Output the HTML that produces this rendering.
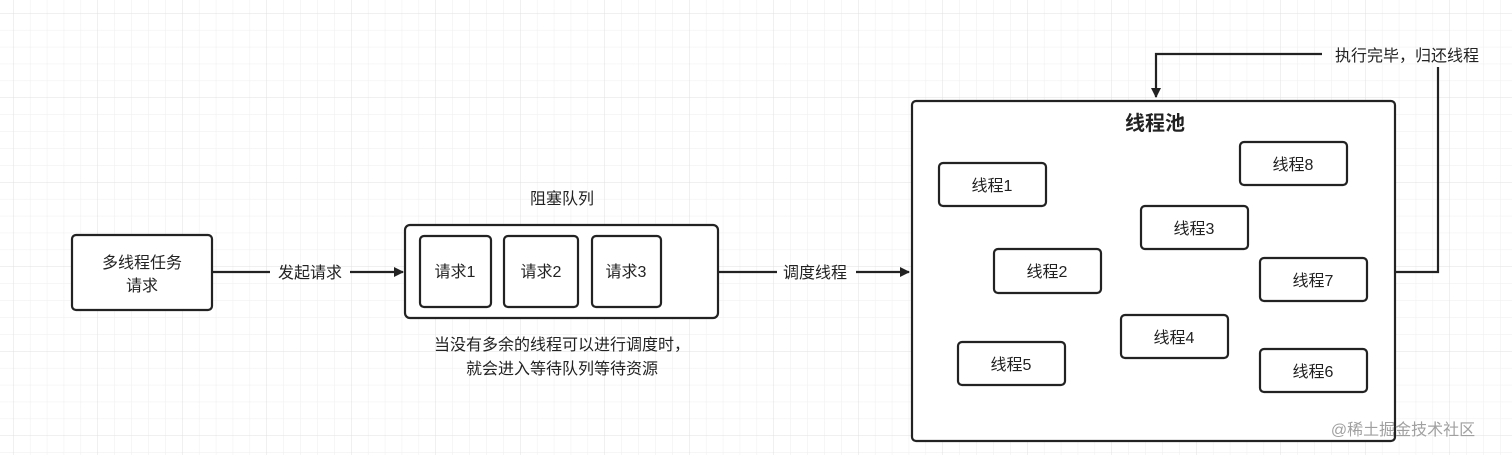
<!DOCTYPE html>
<html><head><meta charset="utf-8"><style>
html,body{margin:0;padding:0;background:#fff}
svg{display:block}
text{font-family:"Liberation Sans","Noto Sans CJK SC",sans-serif;fill:#222}
</style></head><body>
<svg width="1512" height="455" viewBox="0 0 1512 455" xmlns="http://www.w3.org/2000/svg">
<defs>
<pattern id="g" x="-3.4" y="-3.4" width="16.9" height="16.9" patternUnits="userSpaceOnUse"><path d="M16.9 0V16.9H0" fill="none" stroke="#eeeeee" stroke-width="1"/></pattern>
<pattern id="G" x="13.5" y="13.5" width="84.5" height="84.5" patternUnits="userSpaceOnUse"><path d="M84.5 0V84.5H0" fill="none" stroke="#e0e0e0" stroke-width="1"/></pattern>
<marker id="a" markerWidth="10" markerHeight="10" refX="9" refY="5" orient="auto" markerUnits="userSpaceOnUse"><path d="M0,0L10,5L0,10z" fill="#222"/></marker>
</defs>
<rect width="1512" height="455" fill="url(#g)"/>
<rect width="1512" height="455" fill="url(#G)"/>
<g fill="#fff" stroke="#222" stroke-width="2.2">
<rect x="72" y="235" width="140" height="75" rx="4"/>
<rect x="405" y="225" width="313" height="93" rx="5"/>
<rect x="420" y="236" width="71" height="71" rx="4"/>
<rect x="504" y="236" width="74" height="71" rx="4"/>
<rect x="592" y="236" width="69" height="71" rx="4"/>
<rect x="912" y="101" width="483" height="340" rx="4"/>
<rect x="939" y="163" width="107" height="43" rx="4"/>
<rect x="1240" y="142" width="107" height="43" rx="4"/>
<rect x="1141" y="206" width="107" height="43" rx="4"/>
<rect x="994" y="249" width="107" height="44" rx="4"/>
<rect x="1260" y="258" width="107" height="43" rx="4"/>
<rect x="1121" y="315" width="107" height="43" rx="4"/>
<rect x="958" y="342" width="107" height="43" rx="4"/>
<rect x="1260" y="349" width="107" height="43" rx="4"/>
</g>
<g stroke="#222" stroke-width="2.2" fill="none">
<path d="M212 272H270M350 272H403" marker-end="url(#a)"/>
<path d="M718 272H777M856 272H909" marker-end="url(#a)"/>
<path d="M1395 272H1438V67"/>
<path d="M1322 54H1156V97" marker-end="url(#a)"/>
</g>
<g font-size="16" text-anchor="middle">
<text x="142" y="268">多线程任务</text>
<text x="142" y="291">请求</text>
<text x="310" y="278">发起请求</text>
<text x="815" y="278">调度线程</text>
<text x="562" y="204">阻塞队列</text>
<text x="455" y="277">请求1</text>
<text x="541" y="277">请求2</text>
<text x="626" y="277">请求3</text>
<text x="562" y="350">当没有多余的线程可以进行调度时，</text>
<text x="562" y="374">就会进入等待队列等待资源</text>
<text x="1407" y="61">执行完毕，归还线程</text>
<text x="1155" y="130" font-size="20" font-weight="bold">线程池</text>
<text x="992" y="191">线程1</text>
<text x="1293" y="170">线程8</text>
<text x="1194" y="234">线程3</text>
<text x="1047" y="277">线程2</text>
<text x="1313" y="286">线程7</text>
<text x="1174" y="343">线程4</text>
<text x="1011" y="370">线程5</text>
<text x="1313" y="377">线程6</text>
<text x="1403" y="435" fill="#999" style="fill:#a0a0a0">@稀土掘金技术社区</text>
</g>
</svg>
</body></html>
